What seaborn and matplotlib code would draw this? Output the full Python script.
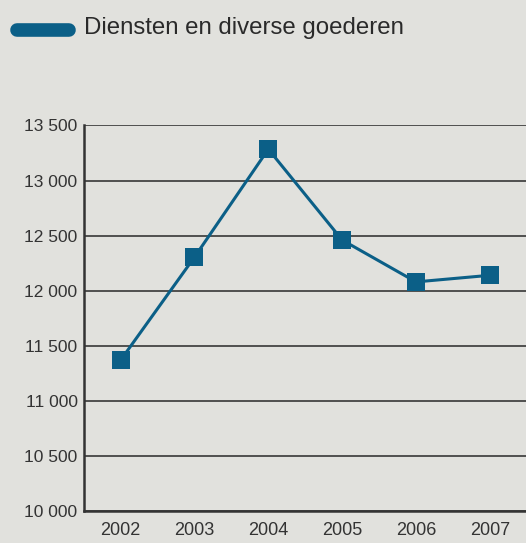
import matplotlib
matplotlib.use("Agg")
import matplotlib.pyplot as plt
from matplotlib.lines import Line2D
import seaborn as sns

years = [2002, 2003, 2004, 2005, 2006, 2007]
values = [11370, 12305, 13285, 12460, 12080, 12140]
series_name = "Diensten en diverse goederen"
y_ticks = [10000, 10500, 11000, 11500, 12000, 12500, 13000, 13500]
y_labels = ["10 000", "10 500", "11 000", "11 500", "12 000", "12 500", "13 000", "13 500"]

bg = "#e1e1dd"
blue = "#0b5f87"
dark = "#333333"

sns.set_style("white")
plt.rcParams["font.family"] = ["Liberation Sans", "DejaVu Sans"]

fig = plt.figure(figsize=(5.26, 5.43), dpi=100, facecolor=bg)
ax = fig.add_axes([0.1606, 0.0589, 0.8394, 0.71])
ax.set_facecolor(bg)

sns.lineplot(x=years, y=values, ax=ax, color=blue, linewidth=2.2,
             marker="s", markersize=13.5, markeredgewidth=0, zorder=3)

ax.set_xlim(2002 - 0.49, 2007 + 0.49)
ax.set_ylim(10000, 13500)
ax.set_xticks(years)
ax.set_xticklabels([str(y) for y in years])
ax.set_yticks(y_ticks)
ax.set_yticklabels(y_labels)
ax.grid(axis="y", color="#444444", linewidth=1.3, zorder=1)
ax.grid(axis="x", visible=False)
for s in ["top", "right"]:
    ax.spines[s].set_visible(False)
for s in ["left", "bottom"]:
    ax.spines[s].set_color(dark)
    ax.spines[s].set_linewidth(1.8)
ax.tick_params(axis="y", length=0, pad=5, labelsize=12.5, labelcolor=dark)
ax.tick_params(axis="x", length=0, pad=8, labelsize=13, labelcolor=dark)
ax.set_xlabel("")
ax.set_ylabel("")

# legend swatch and title
fig.add_artist(Line2D([17 / 526, 69 / 526], [1 - 30 / 543, 1 - 30 / 543],
                      color=blue, linewidth=9.8, solid_capstyle="round",
                      transform=fig.transFigure))
fig.text(84 / 526, 1 - 28 / 543, series_name, fontsize=17.3, color="#2a2a2a",
         va="center", ha="left")

fig.savefig("out.png", dpi=100, facecolor=bg)
